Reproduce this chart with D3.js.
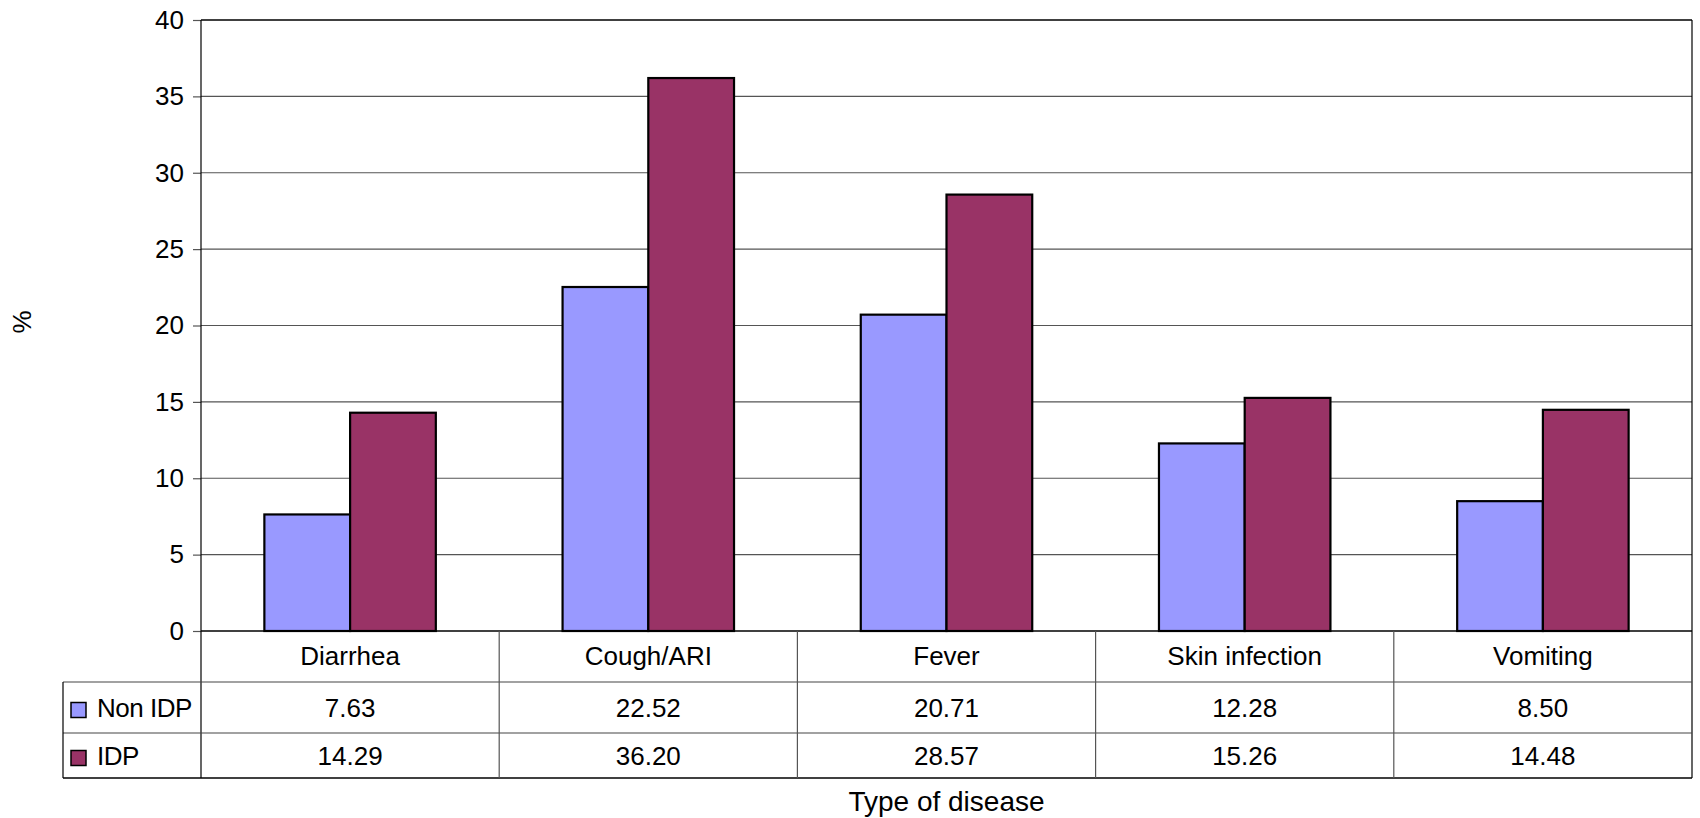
<!DOCTYPE html>
<html>
<head>
<meta charset="utf-8">
<script src="https://cdn.jsdelivr.net/npm/d3@7"></script>
<style>
  html, body { margin: 0; padding: 0; background: #fff; }
  svg { display: block; }
  text { font-family: "Liberation Sans", Arial, sans-serif; fill: #000; }
</style>
</head>
<body>
<svg id="chart" width="1700" height="818"></svg>
<script>
const categories = ["Diarrhea", "Cough/ARI", "Fever", "Skin infection", "Vomiting"];
const seriesNames = ["Non IDP", "IDP"];
const nonIDP = [7.63, 22.52, 20.71, 12.28, 8.50];
const idp = [14.29, 36.20, 28.57, 15.26, 14.48];
const yTicks = [0, 5, 10, 15, 20, 25, 30, 35, 40];
const seriesColors = ["#9999FF", "#993366"];
const xTitle = "Type of disease";
const yTitle = "%";

(function () {
const seriesValues = [nonIDP, idp];

const svg = d3.select("#chart");
const pLeft = 201, pRight = 1692, pTop = 20, pBottom = 631;
const tableLeft = 63;
const rowAxisBottom = 682, row1Bottom = 733, row2Bottom = 778;
const fontSize = 26;

const x0 = d3.scaleBand().domain(categories).range([pLeft, pRight]).padding(0);
const bw = x0.bandwidth();
const x1 = d3.scaleBand().domain(seriesNames).range([bw * 0.2125, bw * 0.7875]).padding(0);
const y = d3.scaleLinear().domain([0, 40]).range([pBottom, pTop]);

// gridlines
svg.append("g").selectAll("line").data(yTicks.filter(t => t > 0 && t < 40)).join("line")
  .attr("x1", pLeft).attr("x2", pRight)
  .attr("y1", d => y(d)).attr("y2", d => y(d))
  .attr("stroke", "#555").attr("stroke-width", 1.2);

// y axis with ticks
const yAxis = d3.axisLeft(y).tickValues(yTicks).tickSize(8).tickPadding(9).tickFormat(d3.format("d"));
const ga = svg.append("g").attr("transform", `translate(${pLeft},0)`).call(yAxis);
ga.select(".domain").remove();
ga.selectAll(".tick line").attr("stroke", "#555").attr("stroke-width", 1.2);
ga.selectAll(".tick text").attr("font-size", fontSize).attr("font-family", "Liberation Sans, Arial, sans-serif").attr("fill", "#000");

// bars
const groups = svg.append("g").selectAll("g").data(categories).join("g")
  .attr("transform", d => `translate(${x0(d)},0)`);
groups.selectAll("rect").data((c, i) => seriesNames.map((s, j) => ({ s, v: seriesValues[j][i], j })))
  .join("rect")
  .attr("x", d => x1(d.s))
  .attr("width", x1.bandwidth())
  .attr("y", d => y(d.v))
  .attr("height", d => y(0) - y(d.v))
  .attr("fill", d => seriesColors[d.j])
  .attr("stroke", "#000")
  .attr("stroke-width", 2.2);

// plot frame
svg.append("line").attr("x1", pLeft).attr("x2", pRight).attr("y1", pTop).attr("y2", pTop).attr("stroke", "#000").attr("stroke-width", 1.5);
svg.append("line").attr("x1", pLeft).attr("x2", pRight).attr("y1", pBottom).attr("y2", pBottom).attr("stroke", "#000").attr("stroke-width", 1.5);
svg.append("line").attr("x1", pLeft).attr("x2", pLeft).attr("y1", pTop).attr("y2", row2Bottom).attr("stroke", "#000").attr("stroke-width", 1.2);
svg.append("line").attr("x1", pRight).attr("x2", pRight).attr("y1", pTop).attr("y2", row2Bottom).attr("stroke", "#000").attr("stroke-width", 1.2);

// data table lines
const tbl = svg.append("g");
[rowAxisBottom, row1Bottom].forEach(yy => {
  tbl.append("line").attr("x1", tableLeft).attr("x2", pRight).attr("y1", yy).attr("y2", yy)
    .attr("stroke", "#444").attr("stroke-width", 1.2);
});
tbl.append("line").attr("x1", tableLeft).attr("x2", pRight).attr("y1", row2Bottom).attr("y2", row2Bottom)
  .attr("stroke", "#000").attr("stroke-width", 1.5);
tbl.append("line").attr("x1", tableLeft).attr("x2", tableLeft).attr("y1", rowAxisBottom).attr("y2", row2Bottom)
  .attr("stroke", "#000").attr("stroke-width", 1.2);
tbl.selectAll("line.sep").data(categories.slice(1)).join("line").attr("class", "sep")
  .attr("x1", d => x0(d)).attr("x2", d => x0(d))
  .attr("y1", pBottom).attr("y2", row2Bottom)
  .attr("stroke", "#555").attr("stroke-width", 1.2);

// category labels
svg.append("g").selectAll("text").data(categories).join("text")
  .attr("x", d => x0(d) + bw / 2)
  .attr("y", (pBottom + rowAxisBottom) / 2 + 8)
  .attr("text-anchor", "middle")
  .attr("font-size", fontSize)
  .text(d => d);

// table values
const rowCenters = [(rowAxisBottom + row1Bottom) / 2, (row1Bottom + row2Bottom) / 2];
seriesNames.forEach((s, j) => {
  svg.append("g").selectAll("text").data(categories).join("text")
    .attr("x", d => x0(d) + bw / 2)
    .attr("y", rowCenters[j] + 9)
    .attr("text-anchor", "middle")
    .attr("font-size", fontSize)
    .text((d, i) => seriesValues[j][i].toFixed(2));
  // legend key
  svg.append("rect")
    .attr("x", 71).attr("y", rowCenters[j] - 5)
    .attr("width", 15).attr("height", 15)
    .attr("fill", seriesColors[j]).attr("stroke", "#000").attr("stroke-width", 1.5);
  svg.append("text")
    .attr("x", 97).attr("y", rowCenters[j] + 9)
    .attr("font-size", fontSize)
    .attr("letter-spacing", "-0.5px")
    .text(s);
});

// axis titles
svg.append("text")
  .attr("x", (pLeft + pRight) / 2)
  .attr("y", 811)
  .attr("text-anchor", "middle")
  .attr("font-size", 28)
  .text(xTitle);

svg.append("text")
  .attr("transform", "translate(31,322) rotate(-90)")
  .attr("text-anchor", "middle")
  .attr("font-size", fontSize)
  .text(yTitle);
})();
</script>
</body>
</html>
